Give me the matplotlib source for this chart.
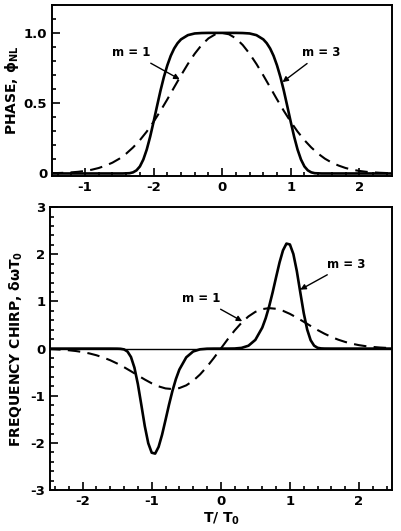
import matplotlib
matplotlib.use("Agg")
import matplotlib.pyplot as plt
from matplotlib.ticker import MultipleLocator

# T/T0 grid for the m = 1 (gaussian) curves
t_m1 = [-2.5, -2.4, -2.3, -2.2, -2.1, -2.0, -1.9, -1.8, -1.7, -1.6, -1.5, -1.4, -1.3,
        -1.2, -1.1, -1.0, -0.9, -0.8, -0.7, -0.6, -0.5, -0.4, -0.3, -0.2, -0.1,
        0.0, 0.1, 0.2, 0.3, 0.4, 0.5, 0.6, 0.7, 0.8, 0.9, 1.0, 1.1, 1.2, 1.3,
        1.4, 1.5, 1.6, 1.7, 1.8, 1.9, 2.0, 2.1, 2.2, 2.3, 2.4, 2.5]
phase_m1 = [0.002, 0.003, 0.005, 0.008, 0.012, 0.018, 0.027, 0.039, 0.056, 0.077,
            0.105, 0.141, 0.185, 0.237, 0.298, 0.368, 0.445, 0.527, 0.613, 0.698,
            0.779, 0.852, 0.914, 0.961, 0.990,
            1.000, 0.990, 0.961, 0.914, 0.852, 0.779, 0.698, 0.613, 0.527, 0.445,
            0.368, 0.298, 0.237, 0.185, 0.141, 0.105, 0.077, 0.056, 0.039, 0.027,
            0.018, 0.012, 0.008, 0.005, 0.003, 0.002]
chirp_m1 = [-0.010, -0.015, -0.023, -0.035, -0.051, -0.073, -0.103, -0.141, -0.189,
            -0.247, -0.316, -0.394, -0.480, -0.569, -0.656, -0.736, -0.801, -0.844,
            -0.858, -0.837, -0.779, -0.682, -0.548, -0.384, -0.198,
            0.000, 0.198, 0.384, 0.548, 0.682, 0.779, 0.837, 0.858, 0.844, 0.801,
            0.736, 0.656, 0.569, 0.480, 0.394, 0.316, 0.247, 0.189, 0.141, 0.103,
            0.073, 0.051, 0.035, 0.023, 0.015, 0.010]

# T/T0 grid for the m = 3 (super-gaussian) curves, denser on the edges
t_m3 = [-2.5, -2.0, -1.6, -1.5, -1.45, -1.4, -1.35, -1.3, -1.25, -1.2, -1.15, -1.1,
        -1.05, -1.0, -0.95, -0.9, -0.85, -0.8, -0.75, -0.7, -0.65, -0.6,
        -0.5, -0.4, -0.3, -0.2, -0.1,
        0.0, 0.1, 0.2, 0.3, 0.4, 0.5,
        0.6, 0.65, 0.7, 0.75, 0.8, 0.85, 0.9, 0.95, 1.0, 1.05, 1.1, 1.15, 1.2,
        1.25, 1.3, 1.35, 1.4, 1.45, 1.5, 1.6, 2.0, 2.5]
phase_m3 = [0.000, 0.000, 0.000, 0.000, 0.000, 0.001, 0.002, 0.008, 0.022, 0.050,
            0.099, 0.170, 0.262, 0.368, 0.479, 0.588, 0.686, 0.769, 0.837, 0.889,
            0.927, 0.954,
            0.984, 0.996, 0.999, 1.000, 1.000,
            1.000, 1.000, 1.000, 0.999, 0.996, 0.984,
            0.954, 0.927, 0.889, 0.837, 0.769, 0.686, 0.588, 0.479, 0.368, 0.262,
            0.170, 0.099, 0.050, 0.022, 0.008, 0.002, 0.001, 0.000, 0.000, 0.000,
            0.000, 0.000]
chirp_m3 = [0.000, 0.000, 0.000, -0.001, -0.004, -0.017, -0.063, -0.178, -0.404,
            -0.754, -1.194, -1.644, -2.005, -2.207, -2.226, -2.083, -1.826, -1.513,
            -1.192, -0.897, -0.646, -0.445,
            -0.185, -0.061, -0.015, -0.002, 0.000,
            0.000, 0.000, 0.002, 0.015, 0.061, 0.185,
            0.445, 0.646, 0.897, 1.192, 1.513, 1.826, 2.083, 2.226, 2.207, 2.005,
            1.644, 1.194, 0.754, 0.404, 0.178, 0.063, 0.017, 0.004, 0.001, 0.000,
            0.000, 0.000]

# the printed top axis has its first two labels swapped
top_xticks = [-2, -1, 0, 1, 2]
top_xlabels = ["-1", "-2", "0", "1", "2"]

plt.rcParams["font.family"] = ["DejaVu Sans"]
plt.rcParams["font.weight"] = "bold"
plt.rcParams["mathtext.default"] = "regular"
plt.rcParams["axes.unicode_minus"] = False


def style_axes(ax):
    ax.tick_params(which="both", direction="in", top=False, right=False,
                   labelsize=9.5, width=1.2)
    ax.tick_params(which="major", length=6)
    ax.tick_params(which="minor", length=3)
    for s in ax.spines.values():
        s.set_linewidth(1.4)
    for lab in ax.get_xticklabels() + ax.get_yticklabels():
        lab.set_fontweight("bold")


arrow = dict(arrowstyle="-|>", color="black", lw=1.0, mutation_scale=8,
             shrinkA=2, shrinkB=0)
dash = (0, (6, 3.5))

fig = plt.figure(figsize=(4.01, 5.31), dpi=100)
ax1 = fig.add_axes([0.13, 0.668, 0.848, 0.323])
ax2 = fig.add_axes([0.125, 0.077, 0.853, 0.533])

# top panel: nonlinear phase
ax1.plot(t_m1, phase_m1, color="black", lw=1.5, linestyle=dash)
ax1.plot(t_m3, phase_m3, color="black", lw=1.9)
ax1.set_xlim(-2.48, 2.48)
ax1.set_ylim(-0.02, 1.2)
ax1.set_xticks(top_xticks)
ax1.set_xticklabels(top_xlabels)
ax1.set_yticks([0, 0.5, 1.0])
ax1.set_yticklabels(["0", "0.5", "1.0"])
ax1.xaxis.set_minor_locator(MultipleLocator(0.2))
ax1.yaxis.set_minor_locator(MultipleLocator(0.1))
ax1.set_ylabel(r"PHASE, $\phi_{NL}$", fontsize=10, fontweight="bold", labelpad=2)
ax1.annotate("m = 1", xy=(-0.62, 0.67), xytext=(-1.32, 0.86),
             fontsize=8.5, fontweight="bold", ha="center", va="center",
             arrowprops=arrow)
ax1.annotate("m = 3", xy=(0.88, 0.65), xytext=(1.45, 0.86),
             fontsize=8.5, fontweight="bold", ha="center", va="center",
             arrowprops=arrow)
style_axes(ax1)

# bottom panel: frequency chirp
ax2.axhline(0, color="black", lw=1.0)
ax2.plot(t_m1, chirp_m1, color="black", lw=1.5, linestyle=dash)
ax2.plot(t_m3, chirp_m3, color="black", lw=1.9)
ax2.set_xlim(-2.47, 2.48)
ax2.set_ylim(-3, 3)
ax2.set_xticks([-2, -1, 0, 1, 2])
ax2.set_yticks([-3, -2, -1, 0, 1, 2, 3])
ax2.xaxis.set_minor_locator(MultipleLocator(0.2))
ax2.yaxis.set_minor_locator(MultipleLocator(0.2))
ax2.set_ylabel(r"FREQUENCY CHIRP, $\delta\omega T_0$", fontsize=10,
               fontweight="bold", labelpad=4)
ax2.set_xlabel(r"T/ T$_0$", fontsize=10, fontweight="bold", labelpad=2)
ax2.annotate("m = 1", xy=(0.31, 0.58), xytext=(-0.28, 1.06),
             fontsize=8.5, fontweight="bold", ha="center", va="center",
             arrowprops=arrow)
ax2.annotate("m = 3", xy=(1.15, 1.25), xytext=(1.82, 1.79),
             fontsize=8.5, fontweight="bold", ha="center", va="center",
             arrowprops=arrow)
style_axes(ax2)

fig.savefig("out.png", dpi=100)
plt.close(fig)
